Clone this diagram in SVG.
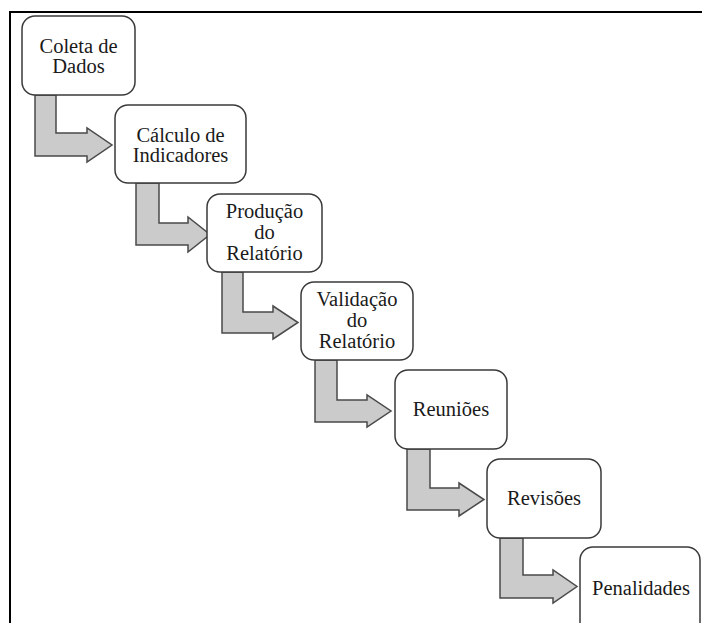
<svg xmlns="http://www.w3.org/2000/svg" width="702" height="623" viewBox="0 0 702 623">
  <style>
    .box { fill: #ffffff; stroke: #3a3a3a; stroke-width: 1.5; }
    .lbl { font-size: 20.5px; fill: #1a1a1a; text-anchor: middle; }
    .arrow { fill: #cbcbcb; stroke: #4a4a4a; stroke-width: 1.5; stroke-linejoin: miter; }
    .frame { fill: none; stroke: #000000; stroke-width: 2; }
  </style>

  <rect width="702" height="623" fill="#ffffff"/>

  <!-- outer frame: top and left edges -->
  <path class="frame" d="M10,623 V12 H702"/>

  <!-- bent block arrows between consecutive steps -->
  <g id="connectors">
    <polygon class="arrow" points="35,95 56,95 56,133 87,133 87,128 112,145 87,162 87,156 35,156"/>
    <polygon class="arrow" points="136,183 159,183 159,223 188,223 188,217 210,234.5 188,252 188,245 136,245"/>
    <polygon class="arrow" points="222,272 243,272 243,312 273,312 273,306 298,322.5 273,339 273,333 222,333"/>
    <polygon class="arrow" points="315,360 337,360 337,400 367,400 367,395 391,411 367,427 367,422 315,422"/>
    <polygon class="arrow" points="407,449 430,449 430,488 459,488 459,483 484,499.5 459,516 459,510 407,510"/>
    <polygon class="arrow" points="500,538 523,538 523,575 553,575 553,570 577,586.5 553,603 553,598 500,598"/>
  </g>

  <g font-family="'Liberation Serif', 'Times New Roman', 'DejaVu Serif', serif">
    <g id="coleta">
      <rect class="box" x="22" y="16" width="113" height="79" rx="13"/>
      <text class="lbl" x="78.5" y="53">Coleta de</text>
      <text class="lbl" x="78.5" y="73">Dados</text>
    </g>

    <g id="calculo">
      <rect class="box" x="115" y="105" width="131" height="78" rx="13"/>
      <text class="lbl" x="180.5" y="142">Cálculo de</text>
      <text class="lbl" x="180.5" y="162">Indicadores</text>
    </g>

    <g id="producao">
      <rect class="box" x="207" y="194" width="115" height="78" rx="13"/>
      <text class="lbl" x="264.5" y="218">Produção</text>
      <text class="lbl" x="264.5" y="239">do</text>
      <text class="lbl" x="264.5" y="260">Relatório</text>
    </g>

    <g id="validacao">
      <rect class="box" x="301" y="282" width="112" height="78" rx="13"/>
      <text class="lbl" x="357" y="306">Validação</text>
      <text class="lbl" x="357" y="327">do</text>
      <text class="lbl" x="357" y="348">Relatório</text>
    </g>

    <g id="reunioes">
      <rect class="box" x="395" y="370" width="112" height="79" rx="13"/>
      <text class="lbl" x="451" y="416">Reuniões</text>
    </g>

    <g id="revisoes">
      <rect class="box" x="487" y="459" width="114" height="79" rx="13"/>
      <text class="lbl" x="544" y="505">Revisões</text>
    </g>

    <g id="penalidades">
      <rect class="box" x="580" y="547" width="120" height="90" rx="13"/>
      <text class="lbl" x="641" y="595">Penalidades</text>
    </g>
  </g>
</svg>
